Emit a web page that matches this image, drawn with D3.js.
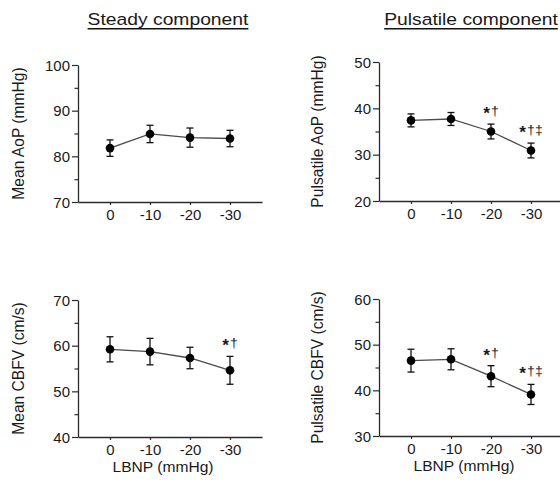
<!DOCTYPE html>
<html>
<head>
<meta charset="utf-8">
<script src="https://cdn.jsdelivr.net/npm/d3@7"></script>
<style>
  html, body { margin: 0; padding: 0; background: #fff; }
  svg { display: block; }
</style>
</head>
<body>
<svg id="chart" width="560" height="486"></svg>
<script>
// LBNP levels (mmHg)
const categories = ["0", "-10", "-20", "-30"];

// Steady component
const meanAoP = [81.8, 84.9, 84.1, 83.9];
const meanAoPSE = [1.8, 1.9, 2.1, 1.8];
const meanCBFV = [59.2, 58.7, 57.3, 54.6];
const meanCBFVSE = [2.75, 2.9, 2.35, 3.05];

// Pulsatile component
const pulsAoP = [37.4, 37.7, 35.0, 30.9];
const pulsAoPSE = [1.4, 1.4, 1.6, 1.6];
const pulsCBFV = [46.5, 46.8, 43.1, 39.1];
const pulsCBFVSE = [2.5, 2.3, 2.3, 2.2];

// Significance marks per level: asterisk plus daggers
const meanAoPSig = ["", "", "", ""];
const pulsAoPSig = ["", "", "\u2020", "\u2020\u2021"];
const meanCBFVSig = ["", "", "", "\u2020"];
const pulsCBFVSig = ["", "", "\u2020", "\u2020\u2021"];

// Y-axis tick labels per panel
const meanAoPTicks = [70, 80, 90, 100];
const pulsAoPTicks = [20, 30, 40, 50];
const meanCBFVTicks = [40, 50, 60, 70];
const pulsCBFVTicks = [30, 40, 50, 60];

const columnTitles = ["Steady component", "Pulsatile component"];
const xTitle = "LBNP (mmHg)";

const FONT = "'Liberation Sans', Arial, Helvetica, sans-serif";
const INK = "#1a1a1a";
const AXIS = "#2b2b2b";

const svg = d3.select("#chart");

// write a horizontally widened text label
function label(parent, x, y, txt, opts) {
  const o = Object.assign({size: 14, sx: 1.1, anchor: "middle", rotate: 0}, opts || {});
  const g = parent.append("g")
    .attr("transform", `translate(${x},${y})` + (o.rotate ? ` rotate(${o.rotate})` : ""));
  const t = g.append("text")
    .attr("transform", `scale(${o.sx},1)`)
    .attr("text-anchor", o.anchor)
    .attr("font-family", FONT)
    .attr("font-size", o.size)
    .attr("fill", INK)
    .text(txt);
  return t;
}

const panels = [
  {ax: 78,  top: 65,  bottom: 202, mean: meanAoP,  se: meanAoPSE,  sig: meanAoPSig,  ticks: meanAoPTicks,  ylab: "Mean AoP (mmHg)",       xlab: false},
  {ax: 379, top: 62,  bottom: 201, mean: pulsAoP,  se: pulsAoPSE,  sig: pulsAoPSig,  ticks: pulsAoPTicks,  ylab: "Pulsatile AoP (mmHg)",  xlab: false},
  {ax: 78,  top: 300, bottom: 437, mean: meanCBFV, se: meanCBFVSE, sig: meanCBFVSig, ticks: meanCBFVTicks, ylab: "Mean CBFV (cm/s)",      xlab: true},
  {ax: 379, top: 299, bottom: 436, mean: pulsCBFV, se: pulsCBFVSE, sig: pulsCBFVSig, ticks: pulsCBFVTicks, ylab: "Pulsatile CBFV (cm/s)", xlab: true}
];

const AXIS_W = 184;
const TICK_SX = 1.07;

// column titles, underlined
const TITLE_SX = 1.135;
[[168, columnTitles[0]], [471, columnTitles[1]]].forEach(([cx, txt]) => {
  const t = label(svg, cx, 25, txt, {size: 17, sx: TITLE_SX});
  let w = t.node().getComputedTextLength();
  if (!(w > 0)) w = txt.length * 8.8;
  w *= TITLE_SX;
  svg.append("rect")
    .attr("x", cx - w / 2).attr("width", w)
    .attr("y", 28).attr("height", 1.5)
    .attr("fill", "#111");
});

panels.forEach(p => {
  const x = d3.scalePoint().domain(categories).range([p.ax, p.ax + AXIS_W]).padding(0.8);
  const lo = d3.min(p.ticks), hi = d3.max(p.ticks);
  const y = d3.scaleLinear().domain([lo, hi]).range([p.bottom, p.top]);

  const minor = d3.range(lo + 5, hi, 10);

  // minor y ticks
  const gMinor = svg.append("g").attr("transform", `translate(${p.ax},0)`)
    .call(d3.axisLeft(y).tickValues(minor).tickSize(3.5).tickSizeOuter(0).tickFormat(""));
  gMinor.select(".domain").remove();
  gMinor.selectAll("line").attr("stroke", AXIS).attr("stroke-width", 1.2);

  // major y axis
  const gy = svg.append("g").attr("transform", `translate(${p.ax},0)`)
    .call(d3.axisLeft(y).tickValues(p.ticks).tickSize(6).tickSizeOuter(0).tickFormat(d3.format("d")));
  gy.select(".domain").attr("stroke", AXIS).attr("stroke-width", 1.3);
  gy.selectAll(".tick line").attr("stroke", AXIS).attr("stroke-width", 1.2);
  gy.selectAll(".tick text")
    .attr("font-family", FONT).attr("font-size", 14).attr("fill", INK)
    .attr("x", -8 / TICK_SX).attr("dy", "0.36em")
    .attr("transform", `scale(${TICK_SX},1)`);

  // x axis
  const gx = svg.append("g").attr("transform", `translate(0,${p.bottom})`)
    .call(d3.axisBottom(x).tickSize(3).tickSizeOuter(0).tickPadding(5.5));
  gx.select(".domain").attr("stroke", AXIS).attr("stroke-width", 1.3);
  gx.selectAll(".tick line").attr("stroke", AXIS).attr("stroke-width", 1.2);
  gx.selectAll(".tick text")
    .attr("font-family", FONT).attr("font-size", 14).attr("fill", INK)
    .attr("transform", `scale(${TICK_SX},1)`);

  const rows = categories.map((c, i) => ({c, m: p.mean[i], s: p.se[i], sig: p.sig[i]}));

  // connecting line
  svg.append("path")
    .datum(rows)
    .attr("fill", "none")
    .attr("stroke", "#4a4a4a")
    .attr("stroke-width", 1.3)
    .attr("d", d3.line().x(d => x(d.c)).y(d => y(d.m)));

  // error bars (mean ± SE)
  const eb = svg.append("g").attr("stroke", "#111").attr("stroke-width", 1.3);
  rows.forEach(d => {
    const cx = x(d.c), y1 = y(d.m + d.s), y0 = y(d.m - d.s);
    eb.append("line").attr("x1", cx).attr("x2", cx).attr("y1", y1).attr("y2", y0);
    eb.append("line").attr("x1", cx - 3.5).attr("x2", cx + 3.5).attr("y1", y1).attr("y2", y1);
    eb.append("line").attr("x1", cx - 3.5).attr("x2", cx + 3.5).attr("y1", y0).attr("y2", y0);
  });

  // means
  svg.append("g").selectAll("circle").data(rows).join("circle")
    .attr("cx", d => x(d.c)).attr("cy", d => y(d.m)).attr("r", 4.3)
    .attr("fill", "#000");

  // significance marks: a bold centred asterisk followed by daggers
  rows.filter(d => d.sig).forEach(d => {
    const g = svg.append("g")
      .attr("transform", `translate(${x(d.c)},${y(d.m + d.s) - 9})`);
    const t = g.append("text")
      .attr("transform", "scale(1.08,1)")
      .attr("text-anchor", "middle")
      .attr("font-family", FONT)
      .attr("fill", INK);
    t.append("tspan").attr("font-size", 16).attr("font-weight", "bold").attr("dy", 4).text("*");
    t.append("tspan").attr("font-size", 13).attr("dy", -4).attr("dx", 1).text(d.sig);
  });

  // y title
  label(svg, p.ax === 78 ? 23.5 : 322.5, (p.top + p.bottom) / 2, p.ylab,
        {size: 15.6, sx: 1.0, rotate: -90});

  // x title
  if (p.xlab) {
    label(svg, p.ax + 85, p.bottom + 34.5, xTitle, {size: 15, sx: 1.04});
  }
});
</script>
</body>
</html>
